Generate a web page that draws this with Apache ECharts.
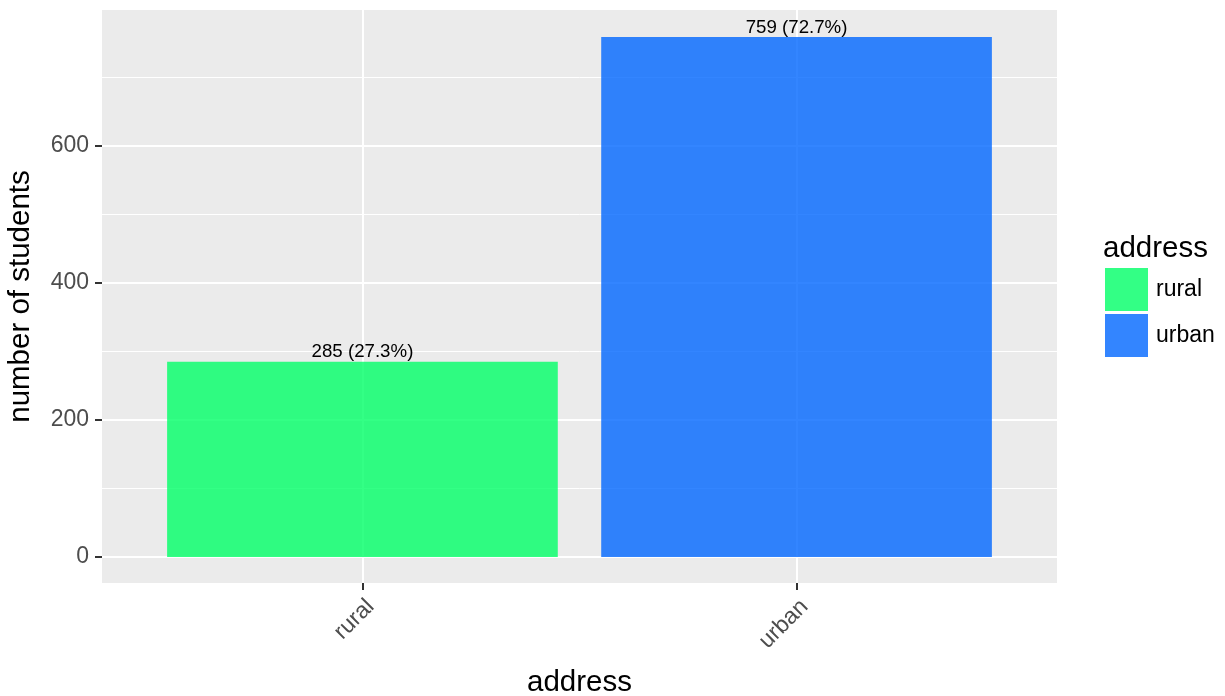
<!DOCTYPE html>
<html>
<head>
<meta charset="utf-8">
<script src="https://cdn.jsdelivr.net/npm/echarts@6/dist/echarts.min.js"></script>
<style>html,body{margin:0;padding:0;background:#fff}#c{width:1225px;height:696px}</style>
</head>
<body>
<div id="c"></div>
<script>
const categories = ['rural', 'urban'];
const counts = [285, 759];
const percents = ['27.3%', '72.7%'];
const yMajorTicks = [0, 200, 400, 600];
const yMinorTicks = [100, 300, 500, 700];
const colors = ['rgba(0,255,102,0.8)', 'rgba(0,102,255,0.8)'];

const font = 'Liberation Sans, Arial, sans-serif';
const chart = echarts.init(document.getElementById('c'));

const series = categories.map((cat, i) => ({
  name: cat,
  type: 'bar',
  xAxisIndex: 0,
  yAxisIndex: 0,
  barWidth: '90%',
  barGap: '-100%',
  itemStyle: { color: colors[i] },
  label: {
    show: true, position: 'top', distance: 0,
    fontFamily: font, fontSize: 18.7, color: '#000',
    formatter: () => counts[i] + ' (' + percents[i] + ')'
  },
  data: [[i + 1, counts[i]]],
  z: 3
}));

chart.setOption({
  animation: false,
  textStyle: { fontFamily: font },
  title: {
    text: 'address', left: 1098, top: 229,
    textStyle: { fontFamily: font, fontSize: 29.5, fontWeight: 'normal', color: '#000' }
  },
  legend: {
    orient: 'vertical', left: 1105, top: 268, padding: 0,
    itemWidth: 43, itemHeight: 43, itemGap: 3,
    icon: 'rect',
    textStyle: { fontFamily: font, fontSize: 23, color: '#000', padding: [0, 0, 0, 3] },
    data: categories
  },
  grid: {
    left: 102, right: 168, top: 10, bottom: 113,
    outerBoundsMode: 'none', containLabel: false,
    show: true, backgroundColor: '#EBEBEB', borderWidth: 0
  },
  xAxis: {
    type: 'value', min: 0.4, max: 2.6,
    name: 'address', nameLocation: 'middle', nameGap: 85,
    nameTextStyle: { fontFamily: font, fontSize: 29.5, color: '#000' },
    axisLine: { show: false, onZero: false },
    axisTick: { show: true, length: 7, customValues: [1, 2], lineStyle: { color: '#333', width: 2 } },
    axisLabel: {
      customValues: [1, 2], rotate: 45, margin: 12, verticalAlign: 'top',
      fontFamily: font, fontSize: 23, color: '#4D4D4D',
      formatter: v => categories[Math.round(v) - 1]
    },
    splitLine: { show: true, lineStyle: { color: '#fff', width: 2 } }
  },
  yAxis: [{
    type: 'value', min: -38, max: 798.5,
    name: 'number of students', nameLocation: 'middle', nameGap: 66,
    nameTextStyle: { fontFamily: font, fontSize: 29.5, color: '#000' },
    axisLine: { show: false, onZero: false },
    axisTick: { show: true, length: 7, customValues: yMajorTicks, lineStyle: { color: '#333', width: 2 } },
    axisLabel: { customValues: yMajorTicks, margin: 13, fontFamily: font, fontSize: 23, color: '#4D4D4D' },
    splitLine: { show: true, lineStyle: { color: '#fff', width: 2 } }
  }, {
    type: 'value', min: -38, max: 798.5, position: 'left',
    axisLine: { show: false, onZero: false },
    axisTick: { show: false, customValues: yMinorTicks },
    axisLabel: { show: false, customValues: yMinorTicks },
    splitLine: { show: true, lineStyle: { color: '#fff', width: 1 } }
  }],
  series: series
});
</script>
</body>
</html>
